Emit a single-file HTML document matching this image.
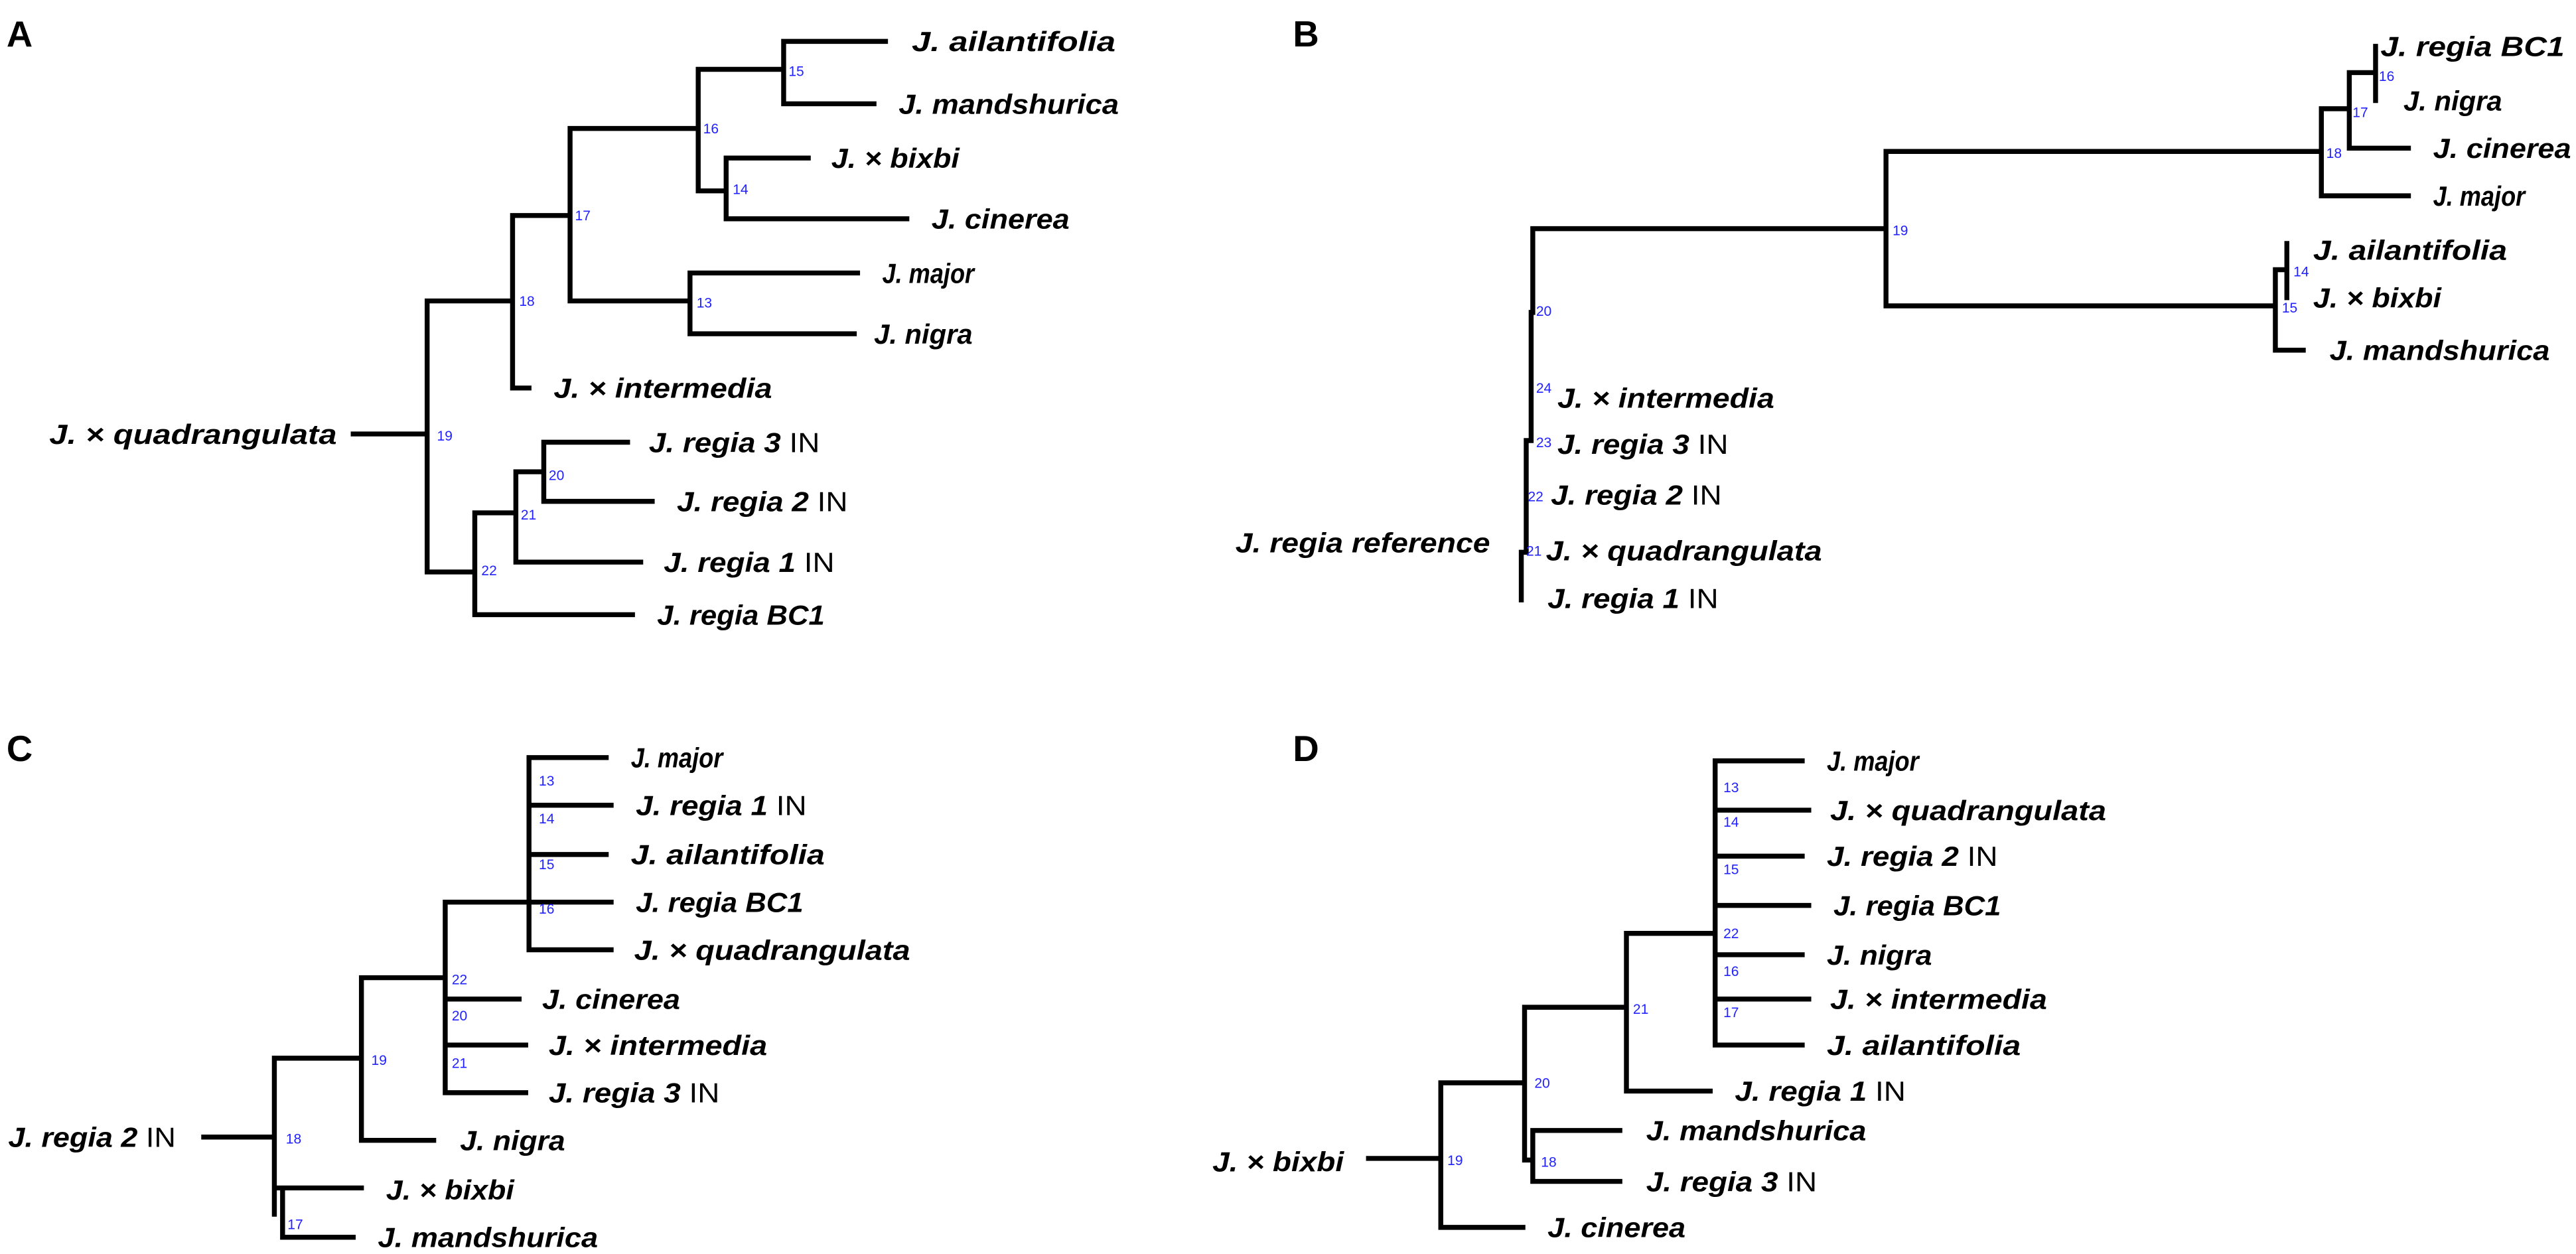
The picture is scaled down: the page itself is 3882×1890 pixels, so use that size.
<!DOCTYPE html>
<html><head><meta charset="utf-8"><style>
html,body{margin:0;padding:0;background:#fff}
svg{display:block}
.b{stroke:#000;stroke-width:3;fill:none;stroke-linecap:square}
.t{font-family:"Liberation Sans",sans-serif;font-weight:bold;font-style:italic;font-size:17px;fill:#000}
.n{font-family:"Liberation Sans",sans-serif;font-size:8.5px;fill:#2222ff}
.L{font-family:"Liberation Sans",sans-serif;font-weight:bold;font-size:22px;fill:#000}
.r{font-style:normal;font-weight:normal}
</style></head><body>
<svg width="3882" height="1890" viewBox="0 0 1568 763" xmlns="http://www.w3.org/2000/svg">
<text class="L" x="4" y="28">A</text>
<text class="L" x="787" y="28">B</text>
<text class="L" x="4" y="463">C</text>
<text class="L" x="787" y="463">D</text>

<!-- Panel A -->
<path class="b" d="M215 264H260 M260 183V348 M260 183H312 M312 131V236 M312 236H322 M312 131H347 M347 78V183 M347 78H425 M425 42V116 M425 42H477 M477 25V63 M477 25H539 M477 63H532 M425 116H442 M442 96V133 M442 96H492 M442 133H552 M347 183H420 M420 166V203 M420 166H522 M420 203H520 M260 348H289 M289 312V374 M289 374H385 M289 312H314 M314 287V342 M314 342H390 M314 287H331 M331 269V305 M331 269H382 M331 305H397"/>
<text class="t" x="555" y="31" textLength="124" lengthAdjust="spacingAndGlyphs">J. ailantifolia</text>
<text class="t" x="547" y="69" textLength="134" lengthAdjust="spacingAndGlyphs">J. mandshurica</text>
<text class="t" x="506" y="102" textLength="78" lengthAdjust="spacingAndGlyphs">J. × bixbi</text>
<text class="t" x="567" y="139" textLength="84" lengthAdjust="spacingAndGlyphs">J. cinerea</text>
<text class="t" x="537" y="172" textLength="56" lengthAdjust="spacingAndGlyphs">J. major</text>
<text class="t" x="532" y="209" textLength="60" lengthAdjust="spacingAndGlyphs">J. nigra</text>
<text class="t" x="337" y="242" textLength="133" lengthAdjust="spacingAndGlyphs">J. × intermedia</text>
<text class="t" x="30" y="270" textLength="175" lengthAdjust="spacingAndGlyphs">J. × quadrangulata</text>
<text class="t" x="395" y="275" textLength="104" lengthAdjust="spacingAndGlyphs">J. regia 3 <tspan class="r">IN</tspan></text>
<text class="t" x="412" y="311" textLength="104" lengthAdjust="spacingAndGlyphs">J. regia 2 <tspan class="r">IN</tspan></text>
<text class="t" x="404" y="348" textLength="104" lengthAdjust="spacingAndGlyphs">J. regia 1 <tspan class="r">IN</tspan></text>
<text class="t" x="400" y="380" textLength="102" lengthAdjust="spacingAndGlyphs">J. regia BC1</text>
<text class="n" x="480" y="46">15</text>
<text class="n" x="428" y="81">16</text>
<text class="n" x="446" y="118">14</text>
<text class="n" x="350" y="134">17</text>
<text class="n" x="316" y="186">18</text>
<text class="n" x="424" y="187">13</text>
<text class="n" x="266" y="268">19</text>
<text class="n" x="334" y="292">20</text>
<text class="n" x="317" y="316">21</text>
<text class="n" x="293" y="350">22</text>

<!-- Panel B -->
<path class="b" d="M933 139V190 M933 190H932 M932 190V268 M932 268H929 M929 268V336 M929 336H926 M926 336V365 M933 139H1148 M1148 92V186 M1148 92H1413 M1413 66V119 M1413 119H1466 M1413 66H1430 M1430 44V90 M1430 90H1466 M1430 44H1446 M1446 28V61 M1148 186H1385 M1385 164V213 M1385 213H1402 M1385 164H1392 M1392 148V181"/>
<text class="t" x="1449" y="34" textLength="112" lengthAdjust="spacingAndGlyphs">J. regia BC1</text>
<text class="t" x="1463" y="67" textLength="60" lengthAdjust="spacingAndGlyphs">J. nigra</text>
<text class="t" x="1481" y="96" textLength="84" lengthAdjust="spacingAndGlyphs">J. cinerea</text>
<text class="t" x="1481" y="125" textLength="56" lengthAdjust="spacingAndGlyphs">J. major</text>
<text class="t" x="1408" y="158" textLength="118" lengthAdjust="spacingAndGlyphs">J. ailantifolia</text>
<text class="t" x="1408" y="187" textLength="78" lengthAdjust="spacingAndGlyphs">J. × bixbi</text>
<text class="t" x="1418" y="219" textLength="134" lengthAdjust="spacingAndGlyphs">J. mandshurica</text>
<text class="t" x="948" y="248" textLength="132" lengthAdjust="spacingAndGlyphs">J. × intermedia</text>
<text class="t" x="948" y="276" textLength="104" lengthAdjust="spacingAndGlyphs">J. regia 3 <tspan class="r">IN</tspan></text>
<text class="t" x="944" y="307" textLength="104" lengthAdjust="spacingAndGlyphs">J. regia 2 <tspan class="r">IN</tspan></text>
<text class="t" x="941" y="341" textLength="168" lengthAdjust="spacingAndGlyphs">J. × quadrangulata</text>
<text class="t" x="942" y="370" textLength="104" lengthAdjust="spacingAndGlyphs">J. regia 1 <tspan class="r">IN</tspan></text>
<text class="t" x="752" y="336" textLength="155" lengthAdjust="spacingAndGlyphs">J. regia reference</text>
<text class="n" x="1448" y="49">16</text>
<text class="n" x="1432" y="71">17</text>
<text class="n" x="1416" y="96">18</text>
<text class="n" x="1152" y="143">19</text>
<text class="n" x="1396" y="168">14</text>
<text class="n" x="1389" y="190">15</text>
<text class="n" x="935" y="192">20</text>
<text class="n" x="935" y="239">24</text>
<text class="n" x="935" y="272">23</text>
<text class="n" x="930" y="305">22</text>
<text class="n" x="929" y="338">21</text>

<!-- Panel C -->
<path class="b" d="M124 692H167 M167 644V739 M167 644H220 M220 595V694 M220 694H264 M220 595H271 M271 549V665 M271 608H316 M271 636H320 M271 665H320 M271 549H322 M322 461V578 M322 461H369 M322 490H372 M322 520H369 M322 549H372 M322 578H372 M167 723H172 M172 723V753 M172 723H220 M172 753H215"/>
<text class="t" x="384" y="467" textLength="56" lengthAdjust="spacingAndGlyphs">J. major</text>
<text class="t" x="387" y="496" textLength="104" lengthAdjust="spacingAndGlyphs">J. regia 1 <tspan class="r">IN</tspan></text>
<text class="t" x="384" y="526" textLength="118" lengthAdjust="spacingAndGlyphs">J. ailantifolia</text>
<text class="t" x="387" y="555" textLength="102" lengthAdjust="spacingAndGlyphs">J. regia BC1</text>
<text class="t" x="386" y="584" textLength="168" lengthAdjust="spacingAndGlyphs">J. × quadrangulata</text>
<text class="t" x="330" y="614" textLength="84" lengthAdjust="spacingAndGlyphs">J. cinerea</text>
<text class="t" x="334" y="642" textLength="133" lengthAdjust="spacingAndGlyphs">J. × intermedia</text>
<text class="t" x="334" y="671" textLength="104" lengthAdjust="spacingAndGlyphs">J. regia 3 <tspan class="r">IN</tspan></text>
<text class="t" x="280" y="700" textLength="64" lengthAdjust="spacingAndGlyphs">J. nigra</text>
<text class="t" x="5" y="698" textLength="102" lengthAdjust="spacingAndGlyphs">J. regia 2 <tspan class="r">IN</tspan></text>
<text class="t" x="235" y="730" textLength="78" lengthAdjust="spacingAndGlyphs">J. × bixbi</text>
<text class="t" x="230" y="759" textLength="134" lengthAdjust="spacingAndGlyphs">J. mandshurica</text>
<text class="n" x="328" y="478">13</text>
<text class="n" x="328" y="501">14</text>
<text class="n" x="328" y="529">15</text>
<text class="n" x="328" y="556">16</text>
<text class="n" x="275" y="599">22</text>
<text class="n" x="275" y="621">20</text>
<text class="n" x="275" y="650">21</text>
<text class="n" x="226" y="648">19</text>
<text class="n" x="174" y="696">18</text>
<text class="n" x="175" y="748">17</text>

<!-- Panel D -->
<path class="b" d="M833 705H877 M877 659V747 M877 747H927 M877 659H928 M928 613V706 M928 706H933 M933 688V719 M933 688H986 M933 719H986 M928 613H990 M990 568V664 M990 664H1041 M990 568H1044 M1044 463V636 M1044 463H1097 M1044 493H1101 M1044 521H1097 M1044 551H1101 M1044 581H1097 M1044 608H1101 M1044 636H1097"/>
<text class="t" x="1112" y="469" textLength="56" lengthAdjust="spacingAndGlyphs">J. major</text>
<text class="t" x="1114" y="499" textLength="168" lengthAdjust="spacingAndGlyphs">J. × quadrangulata</text>
<text class="t" x="1112" y="527" textLength="104" lengthAdjust="spacingAndGlyphs">J. regia 2 <tspan class="r">IN</tspan></text>
<text class="t" x="1116" y="557" textLength="102" lengthAdjust="spacingAndGlyphs">J. regia BC1</text>
<text class="t" x="1112" y="587" textLength="64" lengthAdjust="spacingAndGlyphs">J. nigra</text>
<text class="t" x="1114" y="614" textLength="132" lengthAdjust="spacingAndGlyphs">J. × intermedia</text>
<text class="t" x="1112" y="642" textLength="118" lengthAdjust="spacingAndGlyphs">J. ailantifolia</text>
<text class="t" x="1056" y="670" textLength="104" lengthAdjust="spacingAndGlyphs">J. regia 1 <tspan class="r">IN</tspan></text>
<text class="t" x="1002" y="694" textLength="134" lengthAdjust="spacingAndGlyphs">J. mandshurica</text>
<text class="t" x="1002" y="725" textLength="104" lengthAdjust="spacingAndGlyphs">J. regia 3 <tspan class="r">IN</tspan></text>
<text class="t" x="942" y="753" textLength="84" lengthAdjust="spacingAndGlyphs">J. cinerea</text>
<text class="t" x="738" y="713" textLength="80" lengthAdjust="spacingAndGlyphs">J. × bixbi</text>
<text class="n" x="1049" y="482">13</text>
<text class="n" x="1049" y="503">14</text>
<text class="n" x="1049" y="532">15</text>
<text class="n" x="1049" y="571">22</text>
<text class="n" x="1049" y="594">16</text>
<text class="n" x="1049" y="619">17</text>
<text class="n" x="994" y="617">21</text>
<text class="n" x="934" y="662">20</text>
<text class="n" x="881" y="709">19</text>
<text class="n" x="938" y="710">18</text>
</svg>
</body></html>
